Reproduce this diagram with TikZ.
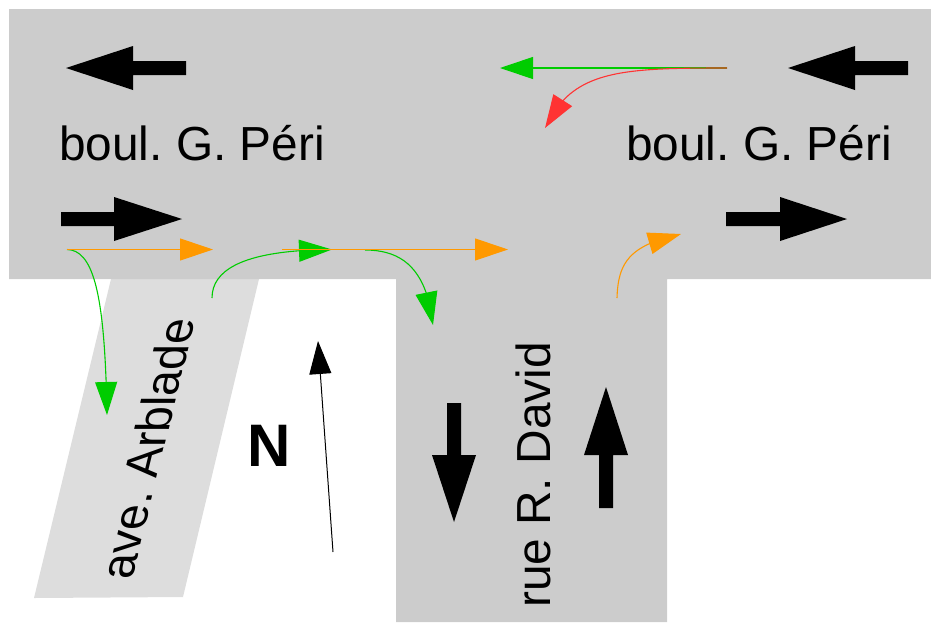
\documentclass[tikz,border=0pt]{standalone}
\usepackage{fontspec}
\setmainfont{Liberation Sans}
\frenchspacing
\usetikzlibrary{arrows.meta,bending}
\definecolor{road}{HTML}{CCCCCC}
\definecolor{sideroad}{HTML}{DDDDDD}
\definecolor{tgreen}{HTML}{00CC00}
\definecolor{torange}{HTML}{FF9900}
\definecolor{tred}{HTML}{FF3333}
\tikzset{
  mov/.style={line width=1.1pt,-{Triangle[length=33pt,width=22pt,flex=1]}},
  bigarrow/.style={fill=black,draw=none},
  lab/.style={font=\fontsize{47.8}{47.8}\selectfont,inner sep=0pt,text=black}
}
\begin{document}
\begin{tikzpicture}[x=1pt,y=-1pt]
\useasboundingbox (0,0) rectangle (931,622);
% roads
\fill[sideroad] (111,279) -- (259,279) -- (183,597) -- (34,598) -- cycle;
\fill[road] (9,9) -- (931,9) -- (931,279) -- (667,279) -- (667,622) -- (396,622) -- (396,279) -- (9,279) -- cycle;
% block arrows
\fill[bigarrow] (66,68) -- (133,46) -- (133,61) -- (186,61) -- (186,75) -- (133,75) -- (133,90) -- cycle;
\fill[bigarrow] (788,68) -- (855,46) -- (855,61) -- (908,61) -- (908,75) -- (855,75) -- (855,90) -- cycle;
\fill[bigarrow] (182,219) -- (114,197) -- (114,212) -- (61,212) -- (61,226) -- (114,226) -- (114,241) -- cycle;
\fill[bigarrow] (847,219) -- (780,197) -- (780,212) -- (726,212) -- (726,226) -- (780,226) -- (780,241) -- cycle;
\fill[bigarrow] (454,522) -- (432,455) -- (447,455) -- (447,403) -- (461,403) -- (461,455) -- (476,455) -- cycle;
\fill[bigarrow] (606,387) -- (584,455) -- (599,455) -- (599,508) -- (613,508) -- (613,455) -- (628,455) -- cycle;
% named ends
\coordinate (eastin) at (727,68);
\coordinate (eastthru) at (500,68);
\coordinate (eastleft) at (545,128);
\coordinate (westin) at (67,249.5);
\coordinate (westthru) at (213,249.5);
\coordinate (westright) at (107,415);
\coordinate (arbin) at (212,298);
\coordinate (arbout) at (332,249.5);
\coordinate (midin) at (282,249.5);
\coordinate (midthru) at (508,249.5);
\coordinate (midstart) at (365,250);
\coordinate (midright) at (433,325);
\coordinate (davidin) at (617,298);
\coordinate (davidout) at (681,234);
\coordinate (ns) at (333,552);
\coordinate (nn) at (318,341);
% movements
\draw[mov,tgreen] (eastin) -- (eastthru);
\draw[mov,tred] (eastin) .. controls (620,68) and (572,70) .. (eastleft);
\draw[mov,tgreen] (westin) .. controls (95,250) and (105,300) .. (westright);
\draw[mov,tgreen] (arbin) .. controls (212,265) and (255,250) .. (arbout);
\draw[mov,tgreen] (midstart) .. controls (405,250) and (427,272) .. (midright);
\draw[mov,torange] (westin) -- (westthru);
\draw[mov,torange] (midin) -- (midthru);
\draw[mov,torange] (davidin) .. controls (618,262) and (630,245) .. (davidout);
% north
\draw[line width=1pt,black,-{Triangle[length=33pt,width=22pt]}] (ns) -- (nn);
% labels
\node[lab,anchor=base] (l1) at (192,160) {boul. G. Péri};
\node[lab,anchor=base] (l2) at (759,160) {boul. G. Péri};
\begin{scope}[shift={(147,449)}]
\node[lab,transform shape,cm={0.236,0.972,-1,0,(0,0)}] (l3) at (0,0) {ave. Arblade};
\end{scope}
\node[lab,rotate=90,anchor=base] (l4) at (550,475) {rue R. David};
\node[font=\fontsize{60}{60}\selectfont\bfseries,inner sep=0pt] (l5) at (269,446) {N};
\end{tikzpicture}
\end{document}
